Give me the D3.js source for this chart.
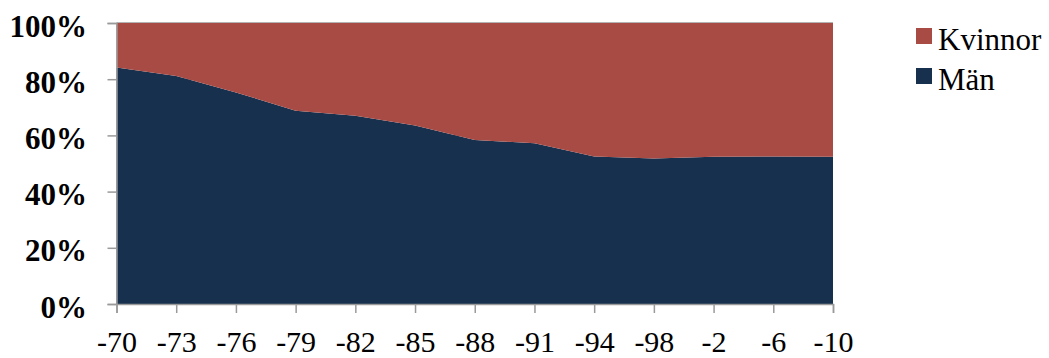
<!DOCTYPE html>
<html>
<head>
<meta charset="utf-8">
<script src="https://cdn.jsdelivr.net/npm/d3@7"></script>
<style>
  html, body { margin: 0; padding: 0; background: #fff; }
  svg { display: block; }
</style>
</head>
<body>
<svg id="chart" width="1049" height="358"></svg>
<script>
// Andel män och kvinnor per år (procent)
const years = ["-70", "-73", "-76", "-79", "-82", "-85", "-88", "-91", "-94", "-98", "-2", "-6", "-10"];
const man = [84.2, 81.1, 75.3, 68.8, 67.0, 63.5, 58.4, 57.2, 52.5, 51.8, 52.4, 52.5, 52.4];
const kvinnor = [15.8, 18.9, 24.7, 31.2, 33.0, 36.5, 41.6, 42.8, 47.5, 48.2, 47.6, 47.5, 47.6];
const yTicks = [0, 20, 40, 60, 80, 100];
const seriesNames = ["Män", "Kvinnor"];
const colors = { "Män": "#16304e", "Kvinnor": "#a84b45" };
const serif = "'Liberation Serif', 'Times New Roman', serif";

const svg = d3.select("#chart");
const plotLeft = 116.5, plotRight = 833, plotTop = 23, plotBottom = 304;

const x = d3.scalePoint().domain(years).range([plotLeft, plotRight]);
const y = d3.scaleLinear().domain([0, 100]).range([plotBottom, plotTop]);

const rows = years.map((yr, i) => ({ year: yr, "Män": man[i], "Kvinnor": kvinnor[i] }));
const stacked = d3.stack().keys(seriesNames).offset(d3.stackOffsetExpand)(rows);

// gridlines sit behind the areas
svg.append("g")
  .selectAll("line")
  .data(yTicks)
  .join("line")
  .attr("x1", plotLeft).attr("x2", plotRight)
  .attr("y1", d => y(d)).attr("y2", d => y(d))
  .attr("stroke", "#9a9a9a").attr("stroke-width", 1.5);

const area = d3.area()
  .x(d => x(d.data.year))
  .y0(d => y(d[0] * 100))
  .y1(d => y(d[1] * 100));

svg.append("g")
  .selectAll("path")
  .data(stacked)
  .join("path")
  .attr("d", area)
  .attr("fill", d => colors[d.key]);

// y axis
const yAxis = svg.append("g")
  .attr("transform", `translate(${plotLeft},0)`)
  .call(d3.axisLeft(y).tickValues(yTicks).tickFormat(d => d + "%").tickSize(9).tickPadding(20.5));
yAxis.select(".domain").attr("stroke", "#9a9a9a").attr("stroke-width", 1.5);
yAxis.selectAll(".tick line").attr("stroke", "#9a9a9a").attr("stroke-width", 1.5);
yAxis.selectAll(".tick text")
  .style("font-family", serif)
  .style("font-weight", "bold")
  .style("font-size", "31px")
  .attr("fill", "#000")
  .attr("dy", null)
  .attr("y", 13);

// x axis
const xAxis = svg.append("g")
  .attr("transform", `translate(0,${plotBottom})`)
  .call(d3.axisBottom(x).tickSize(9).tickPadding(21));
xAxis.select(".domain").attr("stroke", "#9a9a9a").attr("stroke-width", 1.5);
xAxis.selectAll(".tick line").attr("stroke", "#9a9a9a").attr("stroke-width", 1.5);
xAxis.selectAll(".tick text")
  .style("font-family", serif)
  .style("font-size", "30px")
  .attr("fill", "#000")
  .attr("dy", null)
  .attr("y", 48);

// legend
const legendItems = ["Kvinnor", "Män"];
const legend = svg.append("g")
  .selectAll("g")
  .data(legendItems)
  .join("g")
  .attr("transform", (d, i) => `translate(916,${28 + i * 40})`);
legend.append("rect")
  .attr("width", 16).attr("height", 16)
  .attr("fill", d => colors[d]);
legend.append("text")
  .attr("x", 22).attr("y", 22)
  .style("font-family", serif)
  .style("font-size", "31px")
  .attr("fill", "#000")
  .text(d => d);
</script>
</body>
</html>
